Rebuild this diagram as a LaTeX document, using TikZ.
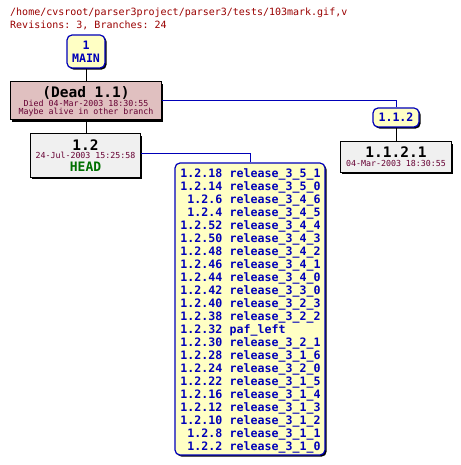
\documentclass[tikz,border=0pt]{standalone}
\usepackage{fontspec}
\setmonofont{DejaVu Sans Mono}
\usetikzlibrary{shadows}
\definecolor{cvsred}{HTML}{990000}
\definecolor{cvsdate}{HTML}{660033}
\definecolor{cvsblue}{HTML}{0000B8}
\definecolor{cvsyellow}{HTML}{FFFFC4}
\definecolor{cvsdead}{HTML}{E0C0C0}
\definecolor{cvsgray}{HTML}{F0F0F0}
\definecolor{cvsgreen}{HTML}{007000}
\tikzset{
  shadowed/.style={drop shadow={shadow xshift=1.6pt, shadow yshift=-1.6pt, fill=black, opacity=1}},
  tagbox/.style={draw=cvsblue, fill=cvsyellow, rounded corners=5pt, line width=1.2pt, shadowed, inner sep=0pt},
  revbox/.style={draw=black, line width=1pt, shadowed, inner sep=0pt},
  deadbox/.style={revbox, fill=cvsdead},
  graybox/.style={revbox, fill=cvsgray},
  titletext/.style={font=\ttfamily\fontsize{10}{12}\selectfont, text=cvsred, inner sep=0pt, anchor=base west},
  bluetext/.style={font=\ttfamily\bfseries\fontsize{11.6}{13}\selectfont, text=cvsblue, inner sep=0pt},
  bigrev/.style={font=\ttfamily\bfseries\fontsize{14.5}{16}\selectfont, text=black, inner sep=0pt},
  smalldate/.style={font=\ttfamily\fontsize{8.3}{9}\selectfont, text=cvsdate, inner sep=0pt},
  bluelink/.style={draw=cvsblue, line width=1pt},
  blacklink/.style={draw=black, line width=1pt},
}
\begin{document}
\begin{tikzpicture}[x=1pt, y=-1pt]
\useasboundingbox (0,0) rectangle (460,465);
% header
\node[titletext] (title1) at (10,16) {/home/cvsroot/parser3project/parser3/tests/103mark.gif,v};
\node[titletext] (title2) at (10,29) {Revisions: 3, Branches: 24};
% boxes
\node[tagbox, minimum width=38pt, minimum height=33pt] (main) at (86,51.5) {};
\node[bluetext, anchor=center] (mainA) at (86,45) {1};
\node[bluetext, anchor=center] (mainB) at (86,58) {MAIN};

\node[deadbox, minimum width=151pt, minimum height=38pt] (dead) at (86,101) {};
\node[bigrev, anchor=center] (deadA) at (86,92.5) {(Dead 1.1)};
\node[smalldate, anchor=center] (deadB) at (86,103) {Died 04-Mar-2003 18:30:55};
\node[smalldate, anchor=center] (deadC) at (86,112) {Maybe alive in other branch};

\node[graybox, minimum width=110pt, minimum height=43pt] (r12) at (85.5,155.5) {};
\node[bigrev, anchor=center] (r12A) at (85.5,145) {1.2};
\node[smalldate, anchor=center] (r12B) at (85.5,155.5) {24-Jul-2003 15:25:58};
\node[font=\ttfamily\bfseries\fontsize{13}{14}\selectfont, text=cvsgreen, inner sep=0pt, anchor=center] (r12C) at (85.5,167) {HEAD};

\node[tagbox, minimum width=46pt, minimum height=19pt] (b112) at (396,117.5) {};
\node[bluetext, anchor=center] (b112A) at (396,117.5) {1.1.2};

\node[graybox, minimum width=111pt, minimum height=30pt] (r1121) at (396,157) {};
\node[bigrev, anchor=center] (r1121A) at (396,152.5) {1.1.2.1};
\node[smalldate, anchor=center] (r1121B) at (396,163.5) {04-Mar-2003 18:30:55};

\node[tagbox, minimum width=150pt, minimum height=292pt] (tags) at (250,309) {};
\foreach \n/\t [count=\i from 0] in {
 1.2.18/release\_3\_5\_1, 1.2.14/release\_3\_5\_0, 1.2.6/release\_3\_4\_6, 1.2.4/release\_3\_4\_5,
 1.2.52/release\_3\_4\_4, 1.2.50/release\_3\_4\_3, 1.2.48/release\_3\_4\_2, 1.2.46/release\_3\_4\_1,
 1.2.44/release\_3\_4\_0, 1.2.42/release\_3\_3\_0, 1.2.40/release\_3\_2\_3, 1.2.38/release\_3\_2\_2,
 1.2.32/paf\_left, 1.2.30/release\_3\_2\_1, 1.2.28/release\_3\_1\_6, 1.2.24/release\_3\_2\_0,
 1.2.22/release\_3\_1\_5, 1.2.16/release\_3\_1\_4, 1.2.12/release\_3\_1\_3, 1.2.10/release\_3\_1\_2,
 1.2.8/release\_3\_1\_1, 1.2.2/release\_3\_1\_0} {
  \node[bluetext, anchor=base east] (num\i) at (222.5,177.2+13*\i) {\n};
  \node[bluetext, anchor=base west] (tag\i) at (229.5,177.2+13*\i) {\t};
}
% connectors
\draw[blacklink] (main.south) -- (dead.north);
\draw[blacklink] (dead.south) -- (dead.south |- r12.north);
\draw[bluelink] (dead.east) -| (b112.north);
\draw[blacklink] (b112.south) -- (b112.south |- r1121.north);
\draw[bluelink] ([yshift=1.5pt]r12.east) -| (tags.north);
\end{tikzpicture}
\end{document}
